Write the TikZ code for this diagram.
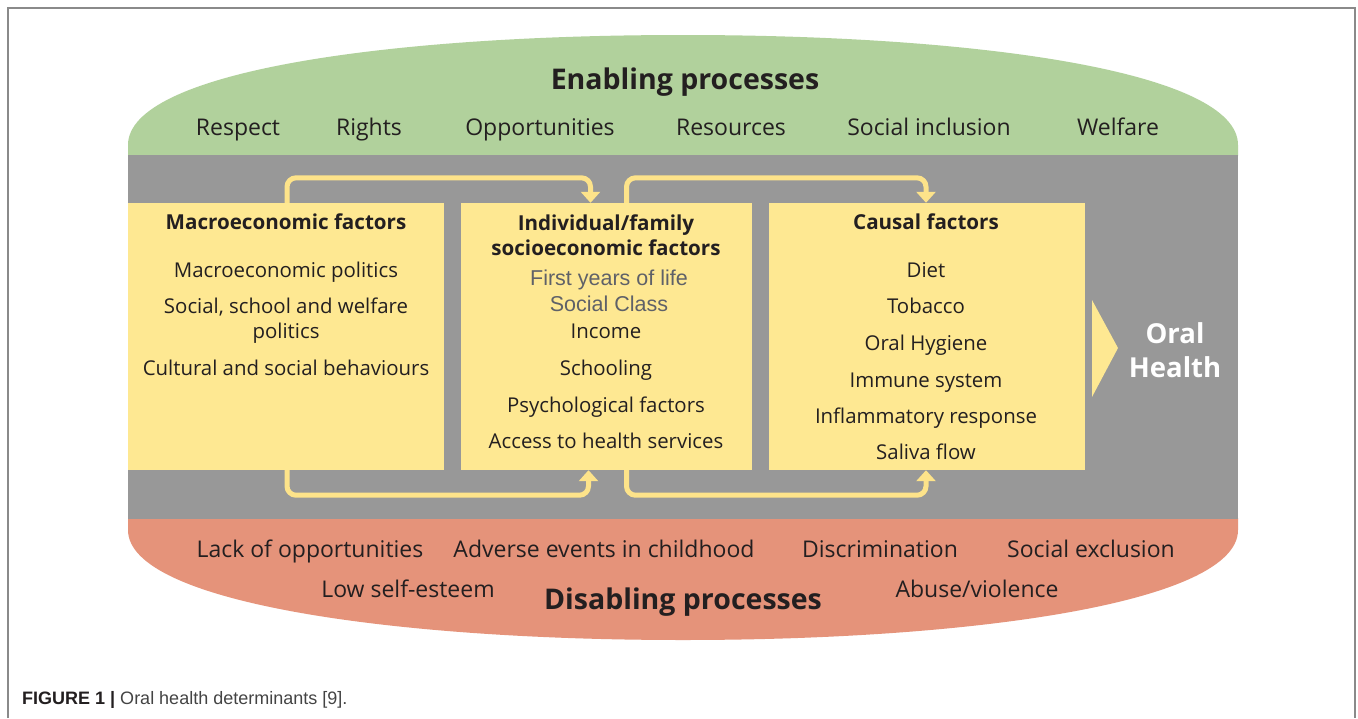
\documentclass[tikz,border=0pt]{standalone}
\usepackage{fontspec}
\setmainfont{Open Sans}
\newfontfamily\arialf{Liberation Sans}
\usetikzlibrary{arrows.meta}
\definecolor{grn}{HTML}{B1D19C}
\definecolor{gry}{HTML}{989898}
\definecolor{yel}{HTML}{FEE892}
\definecolor{arrc}{HTML}{FDE38A}
\definecolor{salm}{HTML}{E5937A}
\definecolor{txt}{HTML}{231F20}
\definecolor{gtxt}{HTML}{5F6168}
\definecolor{frame}{HTML}{8A8A8A}
\tikzset{
  lbl/.style={anchor=base, text=txt, inner sep=0pt, font=\fontsize{23}{26}\selectfont},
  itm/.style={anchor=base, text=txt, inner sep=0pt, font=\fontsize{20.4}{24}\selectfont},
  ttl/.style={anchor=base, text=txt, inner sep=0pt, font=\fontsize{20.6}{24}\selectfont\bfseries},
  big/.style={anchor=base, text=txt, inner sep=0pt, font=\fontsize{28.5}{31}\selectfont\bfseries},
  ohs/.style={anchor=base, text=white, inner sep=0pt, font=\fontsize{27.5}{31}\selectfont\bfseries},
  gitm/.style={anchor=base, text=gtxt, inner sep=0pt, font=\arialf\fontsize{21.5}{24}\selectfont},
  fbox/.style={fill=yel, draw=none, minimum height=267pt, inner sep=0pt},
  flow/.style={draw=arrc, line width=5pt, rounded corners=9pt, -{Triangle[width=19pt,length=11pt]}},
}
\begin{document}
\begin{tikzpicture}[x=1pt,y=-1pt]
\useasboundingbox (0,0) rectangle (1358,718);
\fill[white] (0,0) rectangle (1358,718);
% frame
\draw[frame, line width=1.5pt] (8,718) -- (8,8) -- (1355,8) -- (1355,718);
% green top
\fill[grn] (128,156) -- (128,145) .. controls (128,72) and (385,35) .. (683,35)
  .. controls (981,35) and (1238,72) .. (1238,145) -- (1238,156) -- cycle;
% salmon bottom
\fill[salm] (128,518) -- (128,530) .. controls (128,602) and (390,640) .. (683,640)
  .. controls (976,640) and (1238,602) .. (1238,530) -- (1238,518) -- cycle;
% gray band
\fill[gry] (128,155) rectangle (1238,519);

% boxes
\node[fbox, minimum width=316pt] (b1) at (286,336.5) {};
\node[fbox, minimum width=291pt] (b2) at (606.5,336.5) {};
\node[fbox, minimum width=316pt] (b3) at (927,336.5) {};

% arrows
\draw[flow] ([xshift=1pt]b1.north) -- ++(0,-25) -| ([xshift=-16pt]b2.north);
\draw[flow] ([xshift=20pt]b2.north) -- ++(0,-25) -| ([xshift=-1pt]b3.north);
\draw[flow] ([xshift=1pt]b1.south) -- ++(0,25) -| ([xshift=-18pt]b2.south);
\draw[flow] ([xshift=20pt]b2.south) -- ++(0,25) -| ([xshift=-1pt]b3.south);

% oral health triangle
\fill[yel] (1092,300) -- (1118,348) -- (1092,397) -- cycle;
\node[ohs] (oh1) at (1175,343) {Oral};
\node[ohs] (oh2) at (1175,377) {Health};

% top labels
\node[big] (en) at (685,89) {Enabling processes};
\node[lbl] (t1) at (238,135) {Respect};
\node[lbl] (t2) at (369,135) {Rights};
\node[lbl] (t3) at (540,135) {Opportunities};
\node[lbl] (t4) at (731,135) {Resources};
\node[lbl] (t5) at (929,135) {Social inclusion};
\node[lbl] (t6) at (1118,135) {Welfare};

% box 1
\node[ttl] (h1) at (286,229) {Macroeconomic factors};
\node[itm] (m1) at (286,277) {Macroeconomic politics};
\node[itm] (m2) at (286,313) {Social, school and welfare};
\node[itm] (m3) at (286,338) {politics};
\node[itm] (m4) at (286,375) {Cultural and social behaviours};

% box 2
\node[ttl] (h2a) at (606,230) {Individual/family};
\node[ttl] (h2b) at (606,255) {socioeconomic factors};
\node[gitm] (s1) at (609,285) {First years of life};
\node[gitm] (s2) at (609,311) {Social Class};
\node[itm] (s3) at (606,338) {Income};
\node[itm] (s4) at (606,375) {Schooling};
\node[itm] (s5) at (606,412) {Psychological factors};
\node[itm] (s6) at (606,448) {Access to health services};

% box 3
\node[ttl] (h3) at (926,229) {Causal factors};
\node[itm] (c1) at (926,277) {Diet};
\node[itm] (c2) at (926,313) {Tobacco};
\node[itm] (c3) at (926,350) {Oral Hygiene};
\node[itm] (c4) at (926,387) {Immune system};
\node[itm] (c5) at (926,423) {Inflammatory response};
\node[itm] (c6) at (926,459) {Saliva flow};

% bottom labels
\node[lbl] (d1) at (310,557) {Lack of opportunities};
\node[lbl] (d2) at (604,557) {Adverse events in childhood};
\node[lbl] (d3) at (880,557) {Discrimination};
\node[lbl] (d4) at (1091,557) {Social exclusion};
\node[lbl] (d5) at (408,597) {Low self-esteem};
\node[lbl] (d6) at (977,597) {Abuse/violence};
\node[big] (dis) at (683,609) {Disabling processes};

% caption
\node[anchor=base west, inner sep=0pt, text=txt, font=\arialf\fontsize{18}{20}\selectfont] (cap) at (22,704)
  {\textbf{FIGURE 1 |} \textcolor[HTML]{444444}{Oral health determinants [9].}};
\end{tikzpicture}
\end{document}
